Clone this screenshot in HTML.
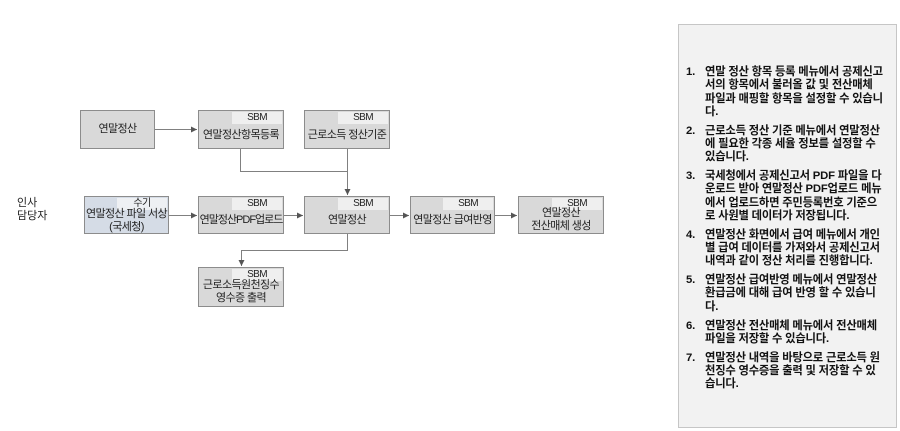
<!DOCTYPE html>
<html><head><meta charset="utf-8"><style>
body{margin:0;width:900px;height:431px;background:#fff;position:relative;font-family:"Liberation Sans","Noto Sans CJK KR",sans-serif;overflow:hidden}
.b{position:absolute;background:#d9d9d9;border:1.5px solid #8c8c8c;box-sizing:border-box;font-size:11px;color:#222;text-align:center;letter-spacing:-0.6px;white-space:nowrap}
.s{position:absolute;right:1px;top:1px;width:50px;height:12px;background:#efefef;font-size:10px;line-height:12px;text-align:center}
.t{position:absolute;left:-5px;right:-5px;line-height:13px}
#panel{position:absolute;left:678px;top:24px;width:219px;height:404px;background:#f2f2f2;border:1.5px solid #c6c6c6;box-sizing:border-box}
ol{position:absolute;left:26px;top:41px;margin:0;padding:0;list-style:none;font-size:11.3px;font-weight:bold;line-height:13.3px;color:#111;white-space:nowrap;letter-spacing:-0.2px}
li{margin-bottom:5.5px;position:relative}
li span{position:absolute;left:-19px;top:0}
</style></head><body>
<div style="position:absolute;left:17px;top:197px;font-size:11px;line-height:13px;color:#222">인사<br>담당자</div>

<div class="b" style="left:80px;top:110px;width:75px;height:39px"><div class="t" style="top:12px">연말정산</div></div>
<div class="b" style="left:198px;top:110px;width:86px;height:39px"><div class="s">SBM</div><div class="t" style="top:18px">연말정산항목등록</div></div>
<div class="b" style="left:304px;top:110px;width:86px;height:39px"><div class="s">SBM</div><div class="t" style="top:18px">근로소득 정산기준</div></div>

<div class="b" style="left:84px;top:196px;width:85px;height:38px;background:#d5dce6"><div class="s" style="background:#eef0f3">수기</div><div class="t" style="top:11px">연말정산 파일 서상<br>(국세청)</div></div>
<div class="b" style="left:198px;top:196px;width:86px;height:38px"><div class="s">SBM</div><div class="t" style="top:17px;letter-spacing:-1px">연말정산PDF업로드</div></div>
<div class="b" style="left:304px;top:196px;width:86px;height:38px"><div class="s">SBM</div><div class="t" style="top:17px">연말정산</div></div>
<div class="b" style="left:410px;top:196px;width:85px;height:38px"><div class="s">SBM</div><div class="t" style="top:17px">연말정산 급여반영</div></div>
<div class="b" style="left:518px;top:196px;width:86px;height:38px"><div class="s">SBM</div><div class="t" style="top:10px">연말정산<br>전산매체 생성</div></div>
<div class="b" style="left:198px;top:267px;width:86px;height:40px"><div class="s">SBM</div><div class="t" style="top:11px">근로소득원천징수<br>영수증 출력</div></div>

<svg width="900" height="431" style="position:absolute;left:0;top:0" fill="none" stroke="#808080" stroke-width="1">
<defs><marker id="a" markerWidth="7" markerHeight="7" refX="6" refY="3" orient="auto"><path d="M0,0 L6,3 L0,6z" fill="#555" stroke="none"/></marker></defs>
<path d="M155,129.5 H197" marker-end="url(#a)"/>
<path d="M240.5,149 V171.5 H347.5 V195" marker-end="url(#a)"/>
<path d="M347.5,149 V171"/>
<path d="M169,215.5 H197" marker-end="url(#a)"/>
<path d="M284,215.5 H303" marker-end="url(#a)"/>
<path d="M390,215.5 H409" marker-end="url(#a)"/>
<path d="M495,215.5 H517" marker-end="url(#a)"/>
<path d="M347.5,234 V250.5 H241.5 V266" marker-end="url(#a)"/>
</svg>

<div id="panel"><ol>
<li><span>1.</span>연말 정산 항목 등록 메뉴에서 공제신고<br>서의 항목에서 불러올 값 및 전산매체<br>파일과 매핑할 항목을 설정할 수 있습니<br>다.</li>
<li><span>2.</span>근로소득 정산 기준 메뉴에서 연말정산<br>에 필요한 각종 세율 정보를 설정할 수<br>있습니다.</li>
<li><span>3.</span>국세청에서 공제신고서 PDF 파일을 다<br>운로드 받아 연말정산 PDF업로드 메뉴<br>에서 업로드하면 주민등록번호 기준으<br>로 사원별 데이터가 저장됩니다.</li>
<li><span>4.</span>연말정산 화면에서 급여 메뉴에서 개인<br>별 급여 데이터를 가져와서 공제신고서<br>내역과 같이 정산 처리를 진행합니다.</li>
<li><span>5.</span>연말정산 급여반영 메뉴에서 연말정산<br>환급금에 대해 급여 반영 할 수 있습니<br>다.</li>
<li><span>6.</span>연말정산 전산매체 메뉴에서 전산매체<br>파일을 저장할 수 있습니다.</li>
<li><span>7.</span>연말정산 내역을 바탕으로 근로소득 원<br>천징수 영수증을 출력 및 저장할 수 있<br>습니다.</li>
</ol></div>
</body></html>
